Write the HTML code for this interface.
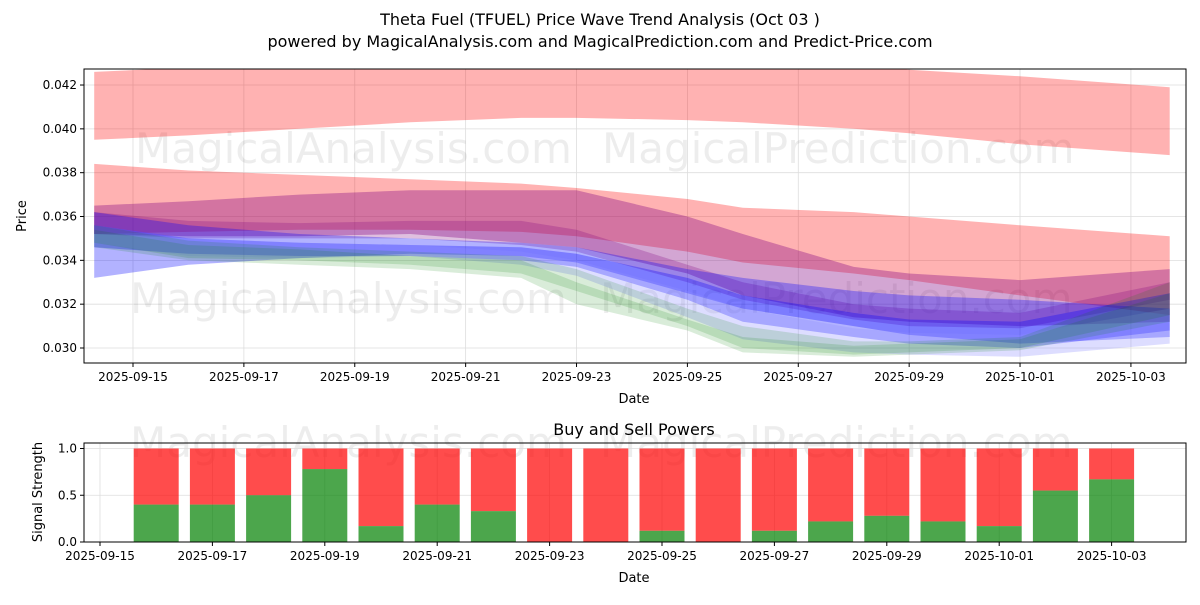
<!DOCTYPE html>
<html><head><meta charset="utf-8"><style>
body{margin:0;background:#fff;font-family:"Liberation Sans","DejaVu Sans",sans-serif}
svg text{font-family:"DejaVu Sans","Liberation Sans",sans-serif}
</style></head><body>
<svg id="c" width="1200" height="600" xmlns="http://www.w3.org/2000/svg">
<text x="600" y="25" text-anchor="middle" font-size="16">Theta Fuel (TFUEL) Price Wave Trend Analysis (Oct 03 )</text>
<text x="600" y="47" text-anchor="middle" font-size="16">powered by MagicalAnalysis.com and MagicalPrediction.com and Predict-Price.com</text>
<g id="topg"></g>
<g id="botg"></g>
</svg>
<script>
const xsDays=[-0.7,1,3,5,7,8,10,11,13,14,16,18.7];
const bandColors=['#ff0000','#ff0000','#800080','#800080','#0000ff','#0000ff','#9090ff','#008000','#008000'];
const bandOpac=[0.3,0.3,0.35,0.25,0.3,0.3,0.3,0.15,0.15];
const bandUpper=[
[0.0426,0.0428,0.0430,0.0432,0.0433,0.0433,0.0432,0.0431,0.0429,0.0427,0.0424,0.0419],
[0.0384,0.0381,0.0379,0.0377,0.0375,0.0373,0.0368,0.0364,0.0362,0.0360,0.0356,0.0351],
[0.0365,0.0367,0.0370,0.0372,0.0372,0.0372,0.0360,0.0352,0.0337,0.0334,0.0331,0.0336],
[0.0362,0.0358,0.0357,0.0358,0.0358,0.0354,0.0338,0.0330,0.0320,0.0318,0.0316,0.0330],
[0.0362,0.0356,0.0352,0.0350,0.0348,0.0346,0.0336,0.0332,0.0326,0.0324,0.0322,0.0318],
[0.0356,0.0350,0.0348,0.0347,0.0346,0.0343,0.0332,0.0324,0.0316,0.0313,0.0312,0.0325],
[0.0356,0.0350,0.0348,0.0347,0.0344,0.0340,0.0326,0.0318,0.0309,0.0307,0.0306,0.0318],
[0.0356,0.0349,0.0346,0.0344,0.0342,0.0336,0.0318,0.0310,0.0303,0.0303,0.0305,0.0330],
[0.0354,0.0347,0.0345,0.0342,0.0340,0.0330,0.0313,0.0305,0.0301,0.0302,0.0304,0.0325]];
const bandLower=[
[0.0395,0.0397,0.0400,0.0403,0.0405,0.0405,0.0404,0.0403,0.0400,0.0398,0.0393,0.0388],
[0.0352,0.0353,0.0354,0.0354,0.0353,0.0351,0.0344,0.0339,0.0334,0.0331,0.0324,0.0315],
[0.0352,0.0351,0.0351,0.0352,0.0348,0.0346,0.0334,0.0324,0.0314,0.0312,0.0310,0.0312],
[0.0352,0.0350,0.0350,0.0350,0.0347,0.0344,0.0330,0.0322,0.0313,0.0310,0.0309,0.0322],
[0.0332,0.0338,0.0341,0.0343,0.0342,0.0339,0.0325,0.0318,0.0310,0.0306,0.0302,0.0305],
[0.0346,0.0343,0.0342,0.0342,0.0340,0.0337,0.0322,0.0312,0.0305,0.0302,0.0300,0.0308],
[0.0348,0.0342,0.0341,0.0342,0.0338,0.0333,0.0314,0.0304,0.0298,0.0297,0.0296,0.0302],
[0.0348,0.0341,0.0340,0.0338,0.0334,0.0326,0.0310,0.0300,0.0297,0.0298,0.0300,0.0315],
[0.0346,0.0340,0.0338,0.0336,0.0332,0.0320,0.0308,0.0298,0.0296,0.0297,0.0299,0.0312]];
const priceTicks=[0.030,0.032,0.034,0.036,0.038,0.040,0.042];
const dateTicks=['2025-09-15','2025-09-17','2025-09-19','2025-09-21','2025-09-23','2025-09-25','2025-09-27','2025-09-29','2025-10-01','2025-10-03'];
const barDays=[1,2,3,4,5,6,7,8,9,10,11,12,13,14,15,16,17,18];
const buyVals=[0.4,0.4,0.5,0.78,0.17,0.4,0.33,0,0,0.12,0,0.12,0.22,0.28,0.22,0.17,0.55,0.67];
const sigTicks=[0,0.5,1.0];

const NS='http://www.w3.org/2000/svg';
function mk(p,t,a){const e=document.createElementNS(NS,t);for(const k in a)e.setAttribute(k,a[k]);p.appendChild(e);return e;}
const topG=document.getElementById('topg'),botG=document.getElementById('botg');
const L=84,R=1186,T=69,B=363;
const xT=d=>133+d*55.44, yT=v=>348-(v-0.030)/0.002*43.83;
const xB=d=>100+d*56.2, yB=v=>542-v*93.5;
priceTicks.forEach(v=>{const g=mk(topG,'line',{x1:L,x2:R,y1:yT(v),y2:yT(v),stroke:'#ddd','stroke-width':0.8});

mk(topG,'line',{x1:L-4,x2:L,y1:yT(v),y2:yT(v),stroke:'#000'});
const t=mk(topG,'text',{x:L-7,y:yT(v)+4,'text-anchor':'end','font-size':12});t.textContent=v.toFixed(3);
});
dateTicks.forEach((s,i)=>{const x=xT(i*2);mk(topG,'line',{x1:x,x2:x,y1:T,y2:B,stroke:'#ddd','stroke-width':0.8});
mk(topG,'line',{x1:x,x2:x,y1:B,y2:B+4,stroke:'#000'});
const t=mk(topG,'text',{x:x,y:B+18,'text-anchor':'middle','font-size':12});t.textContent=s;
});
[[135,163,'MagicalAnalysis.com'],[602,163,'MagicalPrediction.com'],[130,313,'MagicalAnalysis.com'],[600,313,'MagicalPrediction.com'],[130,457,'MagicalAnalysis.com'],[600,457,'MagicalPrediction.com']].forEach(w=>{
const t=mk(topG,'text',{x:w[0],y:w[1],'font-size':42,fill:'#000','fill-opacity':0.07});t.textContent=w[2];
});
const cp=mk(topG,'clipPath',{id:'cp'});mk(cp,'rect',{x:L,y:T,width:R-L,height:B-T});
bandUpper.forEach((up,i)=>{const lo=bandLower[i];
let d=xsDays.map((x,j)=>(j?'L':'M')+xT(x).toFixed(1)+','+yT(up[j]).toFixed(1)).join(' ');
for(let j=xsDays.length-1;j>=0;j--)d+=' L'+xT(xsDays[j]).toFixed(1)+','+yT(lo[j]).toFixed(1);
const p=mk(topG,'path',{d:d+'Z',fill:bandColors[i],'fill-opacity':bandOpac[i],'clip-path':'url(#cp)'});
});
mk(topG,'rect',{x:L,y:T,width:R-L,height:B-T,fill:'none',stroke:'#000','stroke-width':1});
let tt=mk(topG,'text',{x:634,y:403,'text-anchor':'middle','font-size':13});tt.textContent='Date';

tt=mk(topG,'text',{x:26,y:216,'text-anchor':'middle','font-size':13,transform:'rotate(-90 26 216)'});tt.textContent='Price';

const BT=443,BB=542;
tt=mk(botG,'text',{x:634,y:435,'text-anchor':'middle','font-size':16});tt.textContent='Buy and Sell Powers';

sigTicks.forEach(v=>{mk(botG,'line',{x1:L,x2:R,y1:yB(v),y2:yB(v),stroke:'#ddd','stroke-width':0.8});
mk(botG,'line',{x1:L-4,x2:L,y1:yB(v),y2:yB(v),stroke:'#000'});
const t=mk(botG,'text',{x:L-7,y:yB(v)+4,'text-anchor':'end','font-size':12});t.textContent=v.toFixed(1);
});
dateTicks.forEach((s,i)=>{const x=xB(i*2);mk(botG,'line',{x1:x,x2:x,y1:BT,y2:BB,stroke:'#ddd','stroke-width':0.8});
mk(botG,'line',{x1:x,x2:x,y1:BB,y2:BB+4,stroke:'#000'});
const t=mk(botG,'text',{x:x,y:BB+18,'text-anchor':'middle','font-size':12});t.textContent=s;
});
barDays.forEach((d,i)=>{const v=buyVals[i],x=xB(d)-22.5;
const r=mk(botG,'rect',{x:x,y:yB(1),width:45,height:yB(v)-yB(1),fill:'#ff0000','fill-opacity':0.7});

const g=mk(botG,'rect',{x:x,y:yB(v),width:45,height:yB(0)-yB(v),fill:'#008000','fill-opacity':0.7});
});
mk(botG,'rect',{x:L,y:BT,width:R-L,height:BB-BT,fill:'none',stroke:'#000','stroke-width':1});
tt=mk(botG,'text',{x:634,y:582,'text-anchor':'middle','font-size':13});tt.textContent='Date';

tt=mk(botG,'text',{x:42,y:492,'text-anchor':'middle','font-size':13,transform:'rotate(-90 42 492)'});tt.textContent='Signal Strength';

</script>
</body></html>
